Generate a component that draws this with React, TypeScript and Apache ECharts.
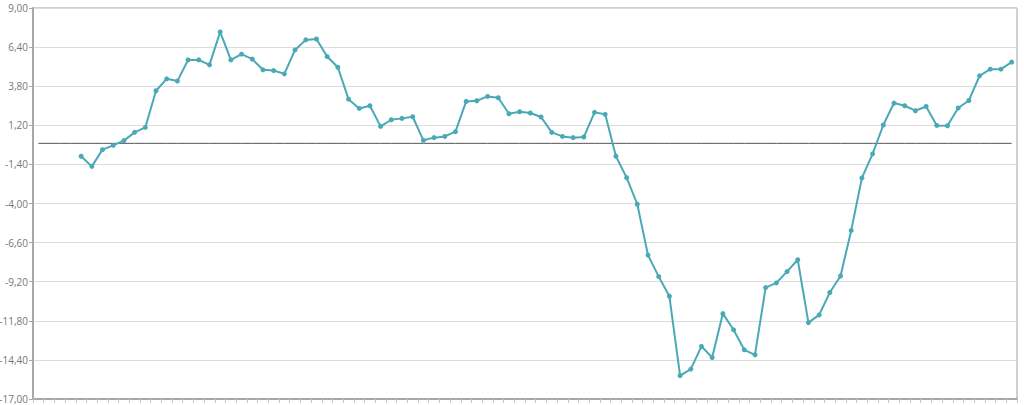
import React, { useEffect, useRef } from "react";
import * as echarts from "echarts";

const categories: string[] = Array.from({ length: 92 }, (_, i) => String(i + 1));

const seriesValues: (number | null)[] = [
  null, null, null, null,
  -0.86, -1.53, -0.42, -0.13, 0.18, 0.73, 1.06, 3.5, 4.29, 4.14,
  5.55, 5.55, 5.22, 7.41, 5.55, 5.93, 5.6, 4.89, 4.84, 4.62,
  6.21, 6.88, 6.94,
  5.77, 5.06, 2.94, 2.32, 2.5, 1.13, 1.57, 1.66, 1.77, 0.2,
  0.38, 0.46, 0.78, 2.79, 2.83, 3.12, 3.03, 1.97, 2.1, 2.02,
  1.75, 0.73, 0.46, 0.38, 0.42, 2.06, 1.93, -0.86, -2.28,
  -4.05, -7.43, -8.86, -10.17, -15.45, -15.01, -13.5, -14.24, -11.32, -12.4,
  -13.73, -14.06, -9.59, -9.28, -8.53, -7.74, -11.92, -11.41, -9.92, -8.82,
  -5.79, -2.3, -0.7, 1.22, 2.68, 2.5, 2.17, 2.45, 1.19, 1.17,
  2.35, 2.85, 4.49, 4.93, 4.93, 5.4,
];

const baselineValues: number[] = categories.map(() => 0);

const yMin = -17;
const yMax = 9;
const yInterval = 2.6;

export default function App() {
  const ref = useRef<HTMLDivElement>(null);
  useEffect(() => {
    if (!ref.current) return;
    const chart = echarts.init(ref.current, undefined, { renderer: "svg" });
    chart.setOption({
      animation: false,
      backgroundColor: "#ffffff",
      grid: {
        left: 33,
        right: 7,
        top: 8,
        bottom: 6,
        show: true,
        borderColor: "#a0a0a0",
        borderWidth: 1,
        outerBoundsMode: "none",
        containLabel: false,
      },
      xAxis: {
        type: "category",
        data: categories,
        boundaryGap: true,
        axisLine: { show: true, onZero: false, lineStyle: { color: "#a8a8a8", width: 2 } },
        axisTick: { show: true, interval: 0, length: 4, lineStyle: { color: "#c8c8c8" } },
        axisLabel: { show: false },
        splitLine: { show: false },
      },
      yAxis: {
        type: "value",
        min: yMin,
        max: yMax,
        interval: yInterval,
        axisLine: { show: true, lineStyle: { color: "#a8a8a8", width: 2 } },
        axisTick: { show: true, length: 4, lineStyle: { color: "#a8a8a8" } },
        axisLabel: {
          color: "#777",
          fontSize: 10,
          fontFamily: "Open Sans, sans-serif",
          margin: 5,
          formatter: (v: number) => v.toFixed(2).replace(".", ","),
        },
        splitLine: { show: true, lineStyle: { color: "#dcdcdc", width: 1 } },
      },
      series: [
        {
          type: "line",
          data: baselineValues,
          showSymbol: false,
          symbol: "none",
          lineStyle: { color: "#555", width: 1 },
          silent: true,
          z: 1,
        },
        {
          type: "line",
          data: seriesValues,
          symbol: "circle",
          symbolSize: 5,
          connectNulls: false,
          itemStyle: { color: "#4aa9b6" },
          lineStyle: { color: "#4aa9b6", width: 2 },
          z: 2,
        },
      ],
    });
    return () => chart.dispose();
  }, []);
  return (
    <div
      ref={ref}
      style={{ position: "fixed", left: 0, top: 0, width: 1024, height: 405 }}
    />
  );
}
